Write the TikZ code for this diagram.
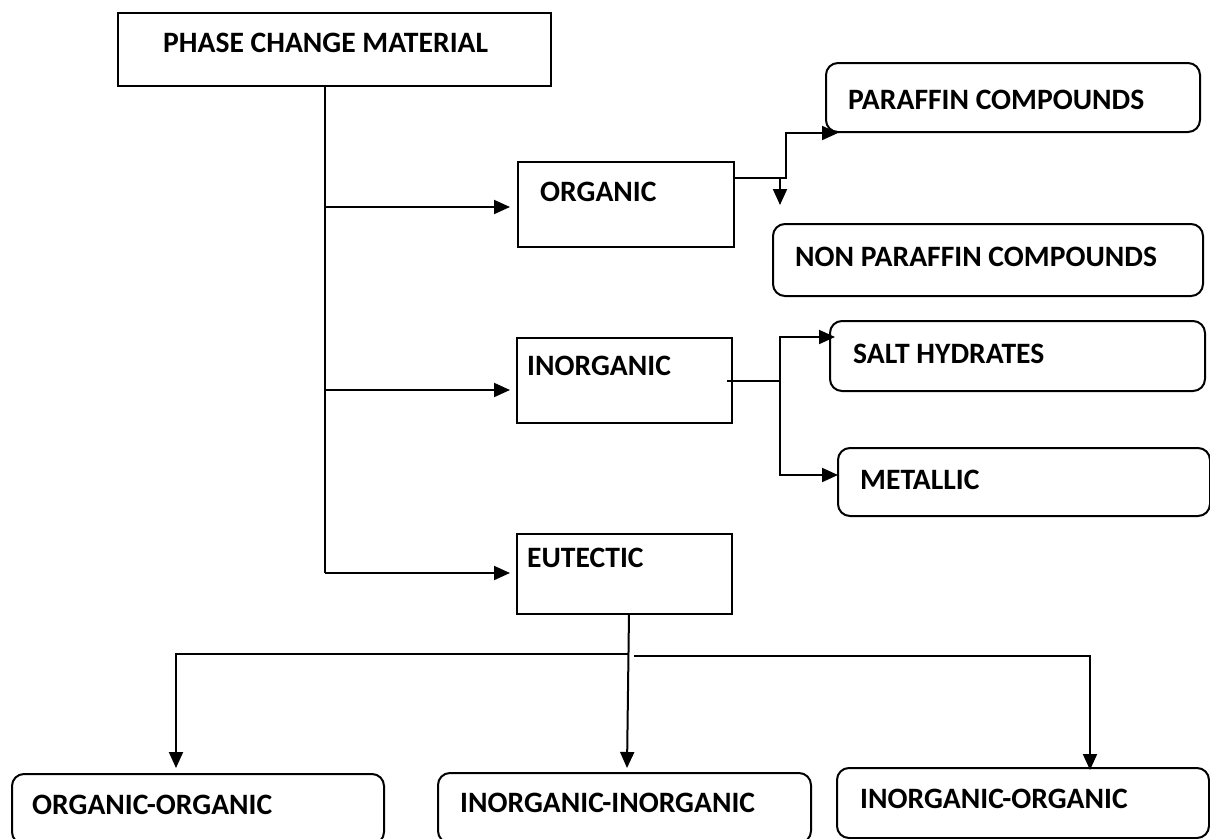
\documentclass[tikz,border=0pt]{standalone}
\usepackage{fontspec}
\setmainfont{Carlito}
\usetikzlibrary{arrows.meta}
\begin{document}
\begin{tikzpicture}[x=1pt,y=-1pt,
  lw/.style={line width=2pt},
  sq/.style={draw,lw,rectangle,inner sep=0pt,anchor=north west},
  rb/.style={draw,lw,rectangle,rounded corners=12pt,inner sep=0pt,anchor=north west},
  txt/.style={inner sep=0pt,anchor=west,font=\fontsize{29.6}{35}\selectfont\bfseries},
  conn/.style={lw},
  arr/.style={lw,-{Triangle[length=16pt,width=14pt]}}]
\useasboundingbox (0,0) rectangle (1210,838);
% boxes
\node[sq,minimum width=433pt,minimum height=73pt] (pcm) at (117,12) {};
\node[txt] (pcmt) at (163,42.5) {PHASE CHANGE MATERIAL};
\node[sq,minimum width=216pt,minimum height=85pt] (org) at (517,161) {};
\node[txt] (orgt) at (540,192) {ORGANIC};
\node[sq,minimum width=215pt,minimum height=85pt] (inorg) at (516,337) {};
\node[txt] (inorgt) at (527,366) {INORGANIC};
\node[sq,minimum width=215pt,minimum height=80pt] (eut) at (516,533) {};
\node[txt] (eutt) at (527,558) {EUTECTIC};
\node[rb,minimum width=374pt,minimum height=69pt] (par) at (825,62) {};
\node[txt] (part) at (848,100) {PARAFFIN COMPOUNDS};
\node[rb,minimum width=430pt,minimum height=72pt] (npar) at (772,223) {};
\node[txt] (npart) at (795,257) {NON PARAFFIN COMPOUNDS};
\node[rb,minimum width=375pt,minimum height=70pt] (salt) at (829,320) {};
\node[txt] (saltt) at (853,354) {SALT HYDRATES};
\node[rb,minimum width=372pt,minimum height=68pt] (met) at (837,447) {};
\node[txt] (mett) at (860,480) {METALLIC};
\node[rb,minimum width=372pt,minimum height=70pt] (oo) at (11,773) {};
\node[txt] (oot) at (32,805) {ORGANIC-ORGANIC};
\node[rb,minimum width=373pt,minimum height=70pt] (ii) at (437,772) {};
\node[txt] (iit) at (460,803) {INORGANIC-INORGANIC};
\node[rb,minimum width=372pt,minimum height=70pt] (io) at (836,767) {};
\node[txt] (iot) at (860,799) {INORGANIC-ORGANIC};
% coordinates
\coordinate (tTop) at (325,85);
\coordinate (t1) at (325,207);
\coordinate (t2) at (325,390);
\coordinate (t3) at (325,573);
\coordinate (a1) at (510,207);
\coordinate (a2) at (510,390);
\coordinate (a3) at (510,573);
\coordinate (o1) at (786,178);
\coordinate (o2) at (786,133);
\coordinate (o3) at (838,133);
\coordinate (od1) at (780,178);
\coordinate (od2) at (780,205);
\coordinate (i0) at (727,381);
\coordinate (i1) at (780,381);
\coordinate (i2) at (780,337);
\coordinate (i3) at (835,337);
\coordinate (i4) at (780,475);
\coordinate (i5) at (838,475);
\coordinate (e0) at (629,613);
\coordinate (e1) at (627,768);
\coordinate (el) at (629,654);
\coordinate (el2) at (176,654);
\coordinate (el3) at (176,768);
\coordinate (er) at (634,656);
\coordinate (er2) at (1090,656);
\coordinate (er3) at (1090,770);
% connectors
\draw[conn] (tTop) -- (t3);
\draw[arr] (t1) -- (a1);
\draw[arr] (t2) -- (a2);
\draw[arr] (t3) -- (a3);
\draw[arr] (org.east |- o1) -- (o1) -- (o2) -- (o3);
\draw[arr] (od1) -- (od2);
\draw[arr] (i0) -- (i1) -- (i2) -- (i3);
\draw[arr] (i1) -- (i4) -- (i5);
\draw[arr] (e0) -- (e1);
\draw[arr] (el) -- (el2) -- (el3);
\draw[arr] (er) -- (er2) -- (er3);
\end{tikzpicture}
\end{document}
